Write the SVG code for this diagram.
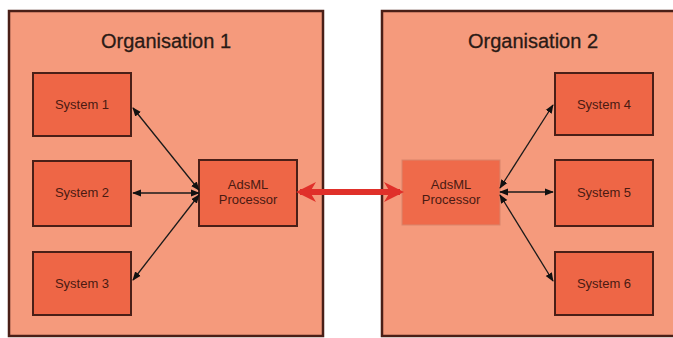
<svg xmlns="http://www.w3.org/2000/svg" width="673" height="338" viewBox="0 0 673 338">
<style>
.org{fill:#f59a7c;stroke:#4a1f17;stroke-width:2.5}
.box{fill:#ee6646;stroke:#4a1f17;stroke-width:2}
.proc2{fill:#ef6a4a;stroke:#d9846a;stroke-width:1}
.title{font-family:"Liberation Sans",Arial,sans-serif;font-size:20px;fill:#2a1a16;text-anchor:middle;stroke:#2a1a16;stroke-width:0.3}
.lbl{font-family:"Liberation Sans",Arial,sans-serif;font-size:13px;fill:#4a1a12;text-anchor:middle}
.conn{stroke:#1a1a1a;stroke-width:1.3;fill:none;marker-start:url(#ah);marker-end:url(#ah)}
</style>
<defs>
<marker id="ah" viewBox="0 0 10 10" refX="9" refY="5" markerWidth="9" markerHeight="9" orient="auto-start-reverse" markerUnits="userSpaceOnUse">
<path d="M0,1 L10,5 L0,9 Z" fill="#111"/>
</marker>
<marker id="red" viewBox="0 0 10 10" refX="8" refY="5" markerWidth="20" markerHeight="20" orient="auto-start-reverse" markerUnits="userSpaceOnUse">
<path d="M0,0 L10,5 L0,10 L3,5 Z" fill="#e0302a"/>
</marker>
</defs>
<rect width="673" height="338" fill="#ffffff"/>
<g id="org1">
<rect class="org" x="9" y="11" width="314" height="325"/>
<text class="title" x="166" y="48">Organisation 1</text>
</g>
<g id="org2">
<rect class="org" x="382" y="11" width="300" height="325"/>
<text class="title" x="533" y="48">Organisation 2</text>
</g>
<g id="system1"><rect class="box" x="33" y="73" width="98" height="63"/><text class="lbl" x="82" y="109">System 1</text></g>
<g id="system2"><rect class="box" x="33" y="161" width="98" height="65"/><text class="lbl" x="82" y="197">System 2</text></g>
<g id="system3"><rect class="box" x="33" y="252" width="98" height="63"/><text class="lbl" x="82" y="288">System 3</text></g>
<g id="proc1"><rect class="box" x="199" y="160" width="98" height="66"/><text class="lbl" x="248" y="189">AdsML</text><text class="lbl" x="248" y="204">Processor</text></g>
<g id="proc2"><rect class="proc2" x="402" y="160" width="98" height="65"/><text class="lbl" x="451" y="189">AdsML</text><text class="lbl" x="451" y="204">Processor</text></g>
<g id="system4"><rect class="box" x="555" y="73" width="98" height="62"/><text class="lbl" x="604" y="109">System 4</text></g>
<g id="system5"><rect class="box" x="555" y="160" width="98" height="66"/><text class="lbl" x="604" y="197">System 5</text></g>
<g id="system6"><rect class="box" x="555" y="252" width="98" height="63"/><text class="lbl" x="604" y="288">System 6</text></g>
<g id="connectors">
<line class="conn" x1="199" y1="190" x2="133" y2="108"/>
<line class="conn" x1="199" y1="193" x2="133" y2="193"/>
<line class="conn" x1="199" y1="195" x2="133" y2="280"/>
<line class="conn" x1="500" y1="188" x2="553" y2="105"/>
<line class="conn" x1="500" y1="192" x2="553" y2="192"/>
<line class="conn" x1="500" y1="195" x2="553" y2="281"/>
<line x1="300" y1="192" x2="400" y2="192" stroke="#e0302a" stroke-width="6" marker-start="url(#red)" marker-end="url(#red)"/>
</g>
</svg>
